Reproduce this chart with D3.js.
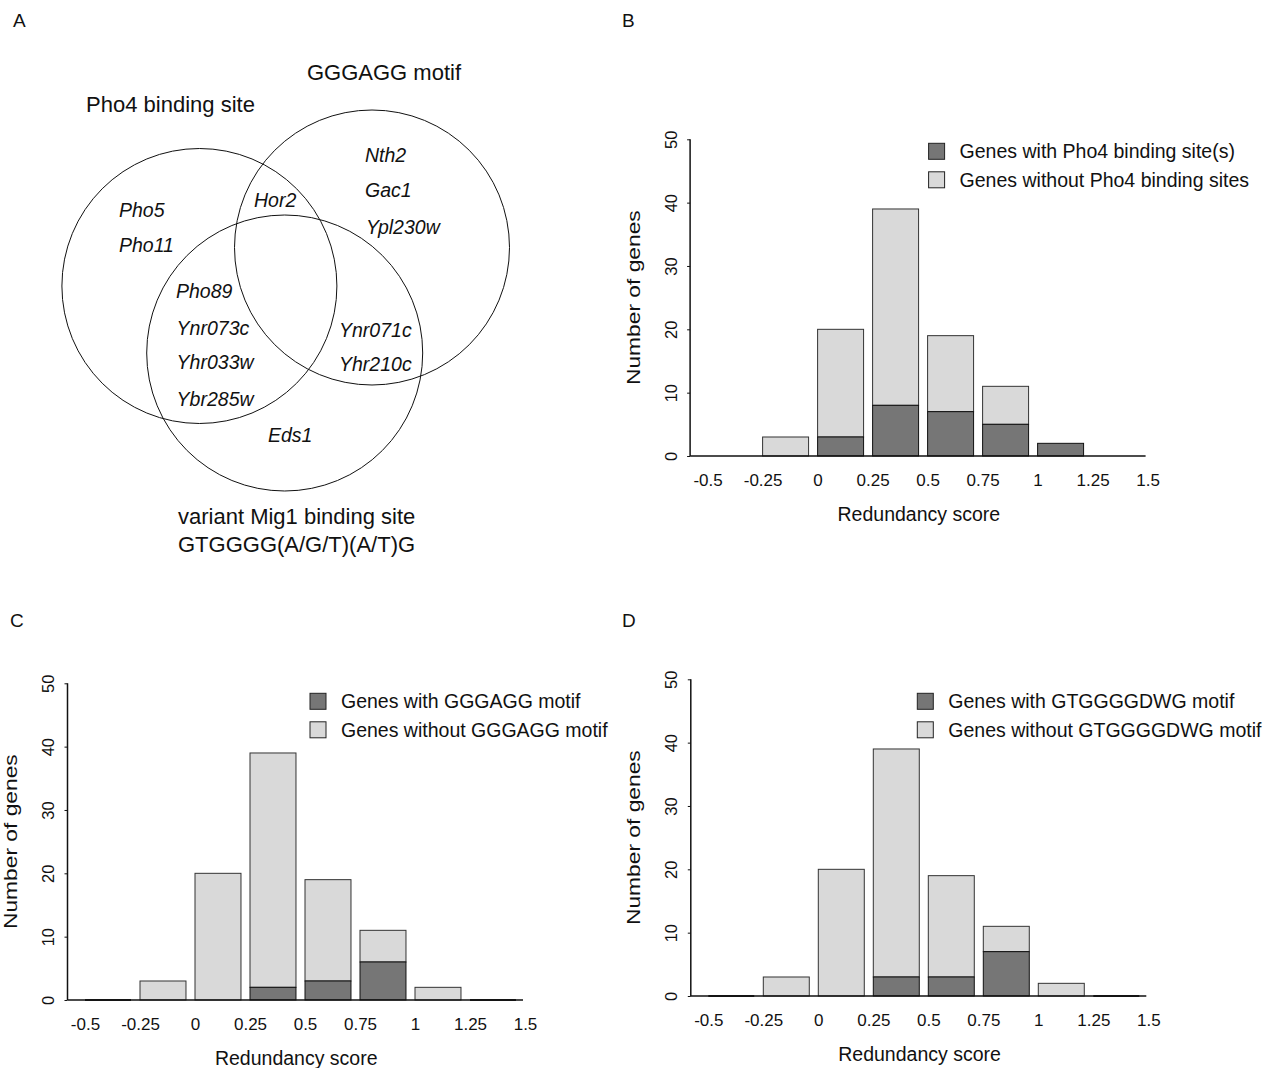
<!DOCTYPE html>
<html><head><meta charset="utf-8">
<script src="https://cdn.jsdelivr.net/npm/d3@7"></script>
<style>
body{margin:0;background:#fff;}
text{font-family:"Liberation Sans",Arial,Helvetica,sans-serif;fill:#111;}
</style></head>
<body>
<svg id="fig" width="1276" height="1068"></svg>
<script>
// ---------- data ----------
const binStarts = [-0.5, -0.25, 0, 0.25, 0.5, 0.75, 1, 1.25];
const xTickValues = [-0.5, -0.25, 0, 0.25, 0.5, 0.75, 1, 1.25, 1.5];
const xTickLabels = ["-0.5", "-0.25", "0", "0.25", "0.5", "0.75", "1", "1.25", "1.5"];
const yTickValues = [0, 10, 20, 30, 40, 50];

// Panel B (null = no bar drawn)
const pho4With    = [null, 0, 3, 8, 7, 5, 2, null];
const pho4Without = [null, 3, 17, 31, 12, 6, 0, null];
// Panel C
const gggaggWith    = [0, 0, 0, 2, 3, 6, 0, 0];
const gggaggWithout = [0, 3, 20, 37, 16, 5, 2, 0];
// Panel D
const gtgWith    = [0, 0, 0, 3, 3, 7, 0, 0];
const gtgWithout = [0, 3, 20, 36, 16, 4, 2, 0];

const legendB = ["Genes with Pho4 binding site(s)", "Genes without Pho4 binding sites"];
const legendC = ["Genes with GGGAGG motif", "Genes without GGGAGG motif"];
const legendD = ["Genes with GTGGGGDWG motif", "Genes without GTGGGGDWG motif"];

// Venn
const vennSets = [
  {name:"Pho4", cx:199.4, cy:286, r:137.5},
  {name:"GGGAGG", cx:372, cy:247.5, r:137.5},
  {name:"Mig1", cx:284.7, cy:353, r:138}
];
const vennGenes = [
  {t:"Pho5", x:119, y:210}, {t:"Pho11", x:119, y:245},
  {t:"Hor2", x:254, y:200},
  {t:"Nth2", x:365, y:155}, {t:"Gac1", x:365, y:190.5}, {t:"Ypl230w", x:366, y:227},
  {t:"Pho89", x:176, y:291.5}, {t:"Ynr073c", x:176.6, y:328.5}, {t:"Yhr033w", x:176.6, y:362.5}, {t:"Ybr285w", x:176.6, y:399},
  {t:"Ynr071c", x:339, y:330}, {t:"Yhr210c", x:339, y:364.5},
  {t:"Eds1", x:268, y:435}
];
const vennLabels = [
  {t:"GGGAGG motif", x:384, y:72, a:"middle"},
  {t:"Pho4 binding site", x:170.5, y:104, a:"middle"},
  {t:"variant Mig1 binding site", x:178, y:516, a:"start"},
  {t:"GTGGGG(A/G/T)(A/T)G", x:178, y:544, a:"start"}
];

// ---------- drawing ----------
const svg = d3.select("#fig");
const DARK = "#767676", LIGHT = "#d9d9d9";

// panel letters
[["A",13,20],["B",622,20],["C",10,620],["D",622,620]].forEach(([t,x,y])=>{
  svg.append("text").attr("x",x).attr("y",y).attr("dy","0.35em").style("font-size","19px").text(t);
});

// Venn diagram
const venn = svg.append("g");
venn.selectAll("circle").data(vennSets).join("circle")
  .attr("cx",d=>d.cx).attr("cy",d=>d.cy).attr("r",d=>d.r)
  .attr("fill","none").attr("stroke","#111").attr("stroke-width",1);
venn.selectAll("text.gene").data(vennGenes).join("text").attr("class","gene")
  .attr("x",d=>d.x).attr("y",d=>d.y).attr("dy","0.35em")
  .style("font-size","19.5px").style("font-style","italic").text(d=>d.t);
venn.selectAll("text.lab").data(vennLabels).join("text").attr("class","lab")
  .attr("x",d=>d.x).attr("y",d=>d.y).attr("dy","0.35em").attr("text-anchor",d=>d.a)
  .style("font-size","22px").text(d=>d.t);

function histogram(cfg){
  const g = svg.append("g").attr("transform",`translate(${cfg.left},${cfg.top})`);
  const x = d3.scaleLinear().domain([-0.5,1.5]).range([0,440]);
  const y = d3.scaleLinear().domain([0,50]).range([316.7,0]);
  const bw = (x(0.25)-x(0))*0.836;
  const axX = x(-0.5)-17.5;

  // bars
  const rows = binStarts.map((b,i)=>({b, w:cfg.withV[i], wo:cfg.withoutV[i]}))
    .filter(d=>d.w!==null);
  rows.forEach(d=>{
    const tot = d.w + d.wo;
    if (d.wo>0) g.append("rect").attr("x",x(d.b)).attr("y",y(tot)).attr("width",bw)
      .attr("height",y(d.w)-y(tot)).attr("fill",LIGHT).attr("stroke","#333").attr("stroke-width",1);
    if (d.w>0) g.append("rect").attr("x",x(d.b)).attr("y",y(d.w)).attr("width",bw)
      .attr("height",y(0)-y(d.w)).attr("fill",DARK).attr("stroke","#111").attr("stroke-width",1);
    if (tot===0) g.append("line").attr("x1",x(d.b)).attr("x2",x(d.b)+bw)
      .attr("y1",y(0)).attr("y2",y(0)).attr("stroke","#222").attr("stroke-width",2);
  });

  // axes lines
  g.append("line").attr("x1",axX).attr("x2",x(1.5)-2).attr("y1",y(0)).attr("y2",y(0))
    .attr("stroke","#111").attr("stroke-width",1.5);
  g.append("line").attr("x1",axX).attr("x2",axX).attr("y1",y(0)).attr("y2",y(50))
    .attr("stroke","#111").attr("stroke-width",1.5);

  // x axis labels
  const xa = g.append("g").attr("transform",`translate(0,${y(0)})`)
    .call(d3.axisBottom(x).tickValues(xTickValues).tickFormat((d,i)=>xTickLabels[i]).tickSize(0));
  xa.select(".domain").remove();
  xa.selectAll("text").attr("y",24).attr("dy","0.35em").style("font-size","17px")
    .style("font-family",'"Liberation Sans",Arial,sans-serif').attr("fill","#111");

  // y axis
  const ya = g.append("g").attr("transform",`translate(${axX},0)`)
    .call(d3.axisLeft(y).tickValues(yTickValues).tickSize(3));
  ya.select(".domain").remove();
  ya.selectAll("line").attr("stroke","#111");
  ya.selectAll("text").attr("transform","rotate(-90)").attr("x",0).attr("y",-13.5).attr("dy",0)
    .attr("text-anchor","middle").style("font-size","16.5px")
    .style("font-family",'"Liberation Sans",Arial,sans-serif').attr("fill","#111");

  // axis titles
  g.append("text").attr("x",(axX + x(1.5))/2).attr("y",y(0)+58).attr("dy","0.35em")
    .attr("text-anchor","middle").style("font-size","19.5px").text("Redundancy score");
  g.append("text").attr("transform",`translate(${axX-57},${(y(0)+y(50))/2}) rotate(-90) scale(1.2,1)`)
    .attr("dy","0.35em").attr("text-anchor","middle").style("font-size","19px").text("Number of genes");

  // legend
  const lg = g.append("g").attr("transform",`translate(${cfg.legX},${cfg.legY})`);
  [DARK, LIGHT].forEach((c,i)=>{
    lg.append("rect").attr("x",0).attr("y",i*28.5-8).attr("width",16).attr("height",16)
      .attr("fill",c).attr("stroke","#222").attr("stroke-width",1);
    lg.append("text").attr("x",31).attr("y",i*28.5).attr("dy","0.35em")
      .style("font-size","19.5px").text(cfg.legend[i]);
  });
}

histogram({left:707.6, top:139.3, withV:pho4With, withoutV:pho4Without, legend:legendB, legX:221, legY:12});
histogram({left:85, top:683.3, withV:gggaggWith, withoutV:gggaggWithout, legend:legendC, legX:225, legY:18});
histogram({left:708.3, top:679.3, withV:gtgWith, withoutV:gtgWithout, legend:legendD, legX:209, legY:22});
</script>
</body></html>
